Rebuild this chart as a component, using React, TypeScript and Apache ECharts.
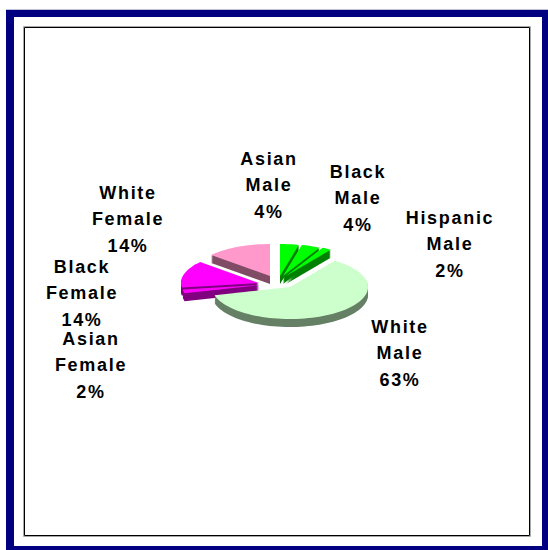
import React, { useEffect, useRef } from "react";
import * as echarts from "echarts";

const categories = ["Asian Male", "Black Male", "Hispanic Male", "White Male", "Asian Female", "Black Female", "White Female"];
const percents = [4, 4, 2, 63, 2, 14, 14];

const topColors = ["#00FF00", "#00FF00", "#00FF00", "#CCFFCC", "#FF00FF", "#FF00FF", "#FF99CC"];
const sideColors = ["#008000", "#008000", "#008000", "#668066", "#800080", "#800080", "#804D66"];
const drawOrder = [6, 0, 1, 2, 5, 4, 3];
const centres = [[280, 276], [283, 276], [286, 276], [290, 287], [260, 285], [259, 283], [270, 276]];
const labelCentres = [[269, 185], [358, 198], [450, 244], [400, 353], [91, 365], [82, 293], [128, 219]];
const labelLines = [["Asian", "Male"], ["Black", "Male"], ["Hispanic", "Male"], ["White", "Male"], ["Asian", "Female"], ["Black", "Female"], ["White", "Female"]];

const RX = 78;
const RY = 32;
const DEPTH = 8;

export default function App() {
  const ref = useRef<HTMLDivElement>(null);
  useEffect(() => {
    document.body.style.margin = "0";
    const chart = echarts.init(ref.current!, undefined, { renderer: "svg" });
    const total = percents.reduce((a, b) => a + b, 0);
    const starts: number[] = [];
    let acc = 0;
    percents.forEach((p) => { starts.push(acc); acc += p; });
    const wedge = (i: number) => {
      const a0 = (starts[i] / total) * Math.PI * 2;
      const a1 = ((starts[i] + percents[i]) / total) * Math.PI * 2;
      const [cx, cy] = centres[i];
      const pts: number[][] = [[cx, cy]];
      const n = Math.max(2, Math.ceil((a1 - a0) / 0.05));
      for (let k = 0; k <= n; k++) {
        const t = a0 + ((a1 - a0) * k) / n;
        pts.push([cx + RX * Math.sin(t), cy - RY * Math.cos(t)]);
      }
      return pts;
    };
    chart.setOption({
      animation: false,
      backgroundColor: "#ffffff",
      graphic: [
        { type: "rect", z: 0, shape: { x: 6, y: 9, width: 542, height: 541 }, style: { fill: "#C0C0D8" } },
        { type: "rect", z: 0, shape: { x: 6, y: 10, width: 542, height: 540 }, style: { fill: "#000080" } },
        { type: "rect", z: 0, shape: { x: 14, y: 17, width: 528, height: 529 }, style: { fill: "#ffffff" } },
        { type: "rect", z: 0, shape: { x: 23.5, y: 26.5, width: 507, height: 510 }, style: { fill: "#ffffff", stroke: "#A8A8A8", lineWidth: 1 } },
        { type: "rect", z: 0, shape: { x: 24.5, y: 27.5, width: 505, height: 508 }, style: { fill: "#ffffff", stroke: "#000000", lineWidth: 1 } },
      ],
      series: [
        {
          type: "custom",
          coordinateSystem: "none",
          silent: true,
          data: drawOrder.map((i) => [i, percents[i]]),
          z: 5,
          renderItem: (_params: any, api: any) => {
            const i = api.value(0);
            const pts = wedge(i);
            const children: any[] = [];
            for (let d = DEPTH; d >= 1; d--) {
              children.push({
                type: "polygon",
                shape: { points: pts.map(([x, y]) => [x, y + d]) },
                style: { fill: sideColors[i] },
              });
            }
            children.push({ type: "polygon", shape: { points: pts }, style: { fill: topColors[i] } });
            return { type: "group", children };
          },
        },
        {
          type: "custom",
          coordinateSystem: "none",
          silent: true,
          data: categories.map((_, i) => [i, percents[i]]),
          z: 6,
          renderItem: (_params: any, api: any) => {
            const i = api.value(0);
            const [x, y] = labelCentres[i];
            return {
              type: "text",
              x,
              y,
              style: {
                text: [...labelLines[i], `${api.value(1)}%`].join("\n"),
                fontFamily: "Liberation Sans, Arial, sans-serif",
                fontWeight: "bold",
                fontSize: 18,
                lineHeight: 26.5,
                fill: "#000000",
                align: "center",
                verticalAlign: "middle",
              },
            };
          },
        },
      ],
    });
    return () => chart.dispose();
  }, []);
  return <div ref={ref} style={{ position: "fixed", left: 0, top: 0, width: 548, height: 550, letterSpacing: "1.7px" }} />;
}
